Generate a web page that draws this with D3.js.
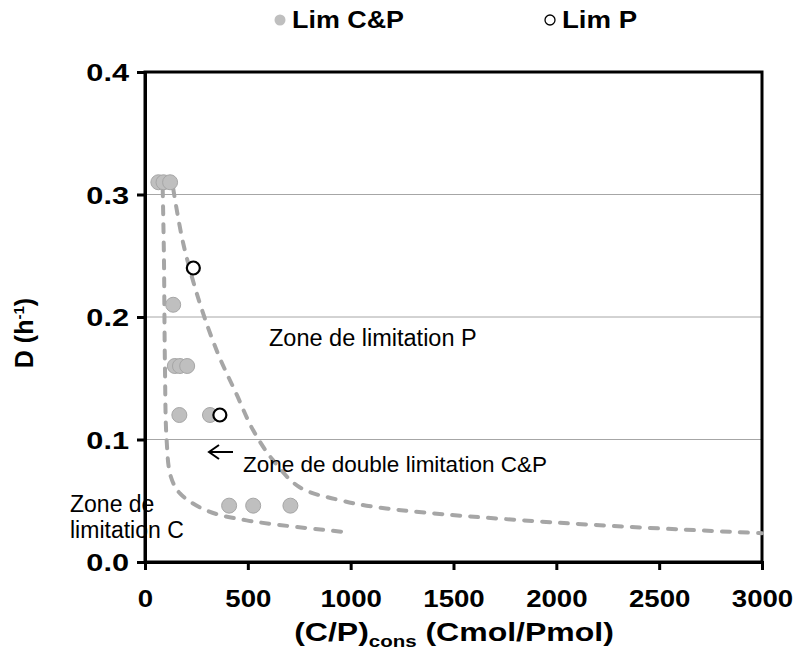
<!DOCTYPE html>
<html>
<head>
<meta charset="utf-8">
<script src="https://cdn.jsdelivr.net/npm/d3@7"></script>
<style>
  html, body { margin: 0; padding: 0; background: #fff; }
  svg { display: block; font-family: "Liberation Sans", Arial, sans-serif; }
</style>
</head>
<body>
<svg id="chart" width="796" height="651"></svg>
<script>
// Dilution rate D (h-1) versus consumed C/P ratio (Cmol/Pmol)
const limCP_x = [65, 90, 122, 137, 145, 170, 205, 167, 316, 409, 526, 707];
const limCP_y = [0.31, 0.31, 0.31, 0.21, 0.16, 0.16, 0.16, 0.12, 0.12, 0.046, 0.046, 0.046];
const limP_x = [235, 364];
const limP_y = [0.24, 0.12];

// Boundary of the C-limitation zone
const boundC_x = [86, 92, 97, 105, 125, 170, 300, 494, 1000];
const boundC_y = [0.305, 0.25, 0.16, 0.10, 0.07, 0.056, 0.042, 0.034, 0.024];
// Boundary of the P-limitation zone
const boundP_x = [137, 186, 267, 355, 445, 526, 623, 752, 947, 1173, 2015, 3000];
const boundP_y = [0.305, 0.26, 0.211, 0.17, 0.137, 0.1075, 0.083, 0.061, 0.0505, 0.0437, 0.032, 0.0235];

const xTicks = [0, 500, 1000, 1500, 2000, 2500, 3000];
const yTicks = [0.0, 0.1, 0.2, 0.3, 0.4];
const gridTicks = [0.1, 0.2, 0.3];

const svg = d3.select("#chart");
const plotL = 145, plotR = 762, plotT = 72, plotB = 562;

const x = d3.scaleLinear().domain([0, 3000]).range([plotL, plotR]);
const y = d3.scaleLinear().domain([0, 0.4]).range([plotB, plotT]);

// text placed at (tx, ty) and widened horizontally by sx
function label(tx, ty, str, size, weight, sx, anchor) {
  return svg.append("text")
    .attr("transform", `translate(${tx},${ty}) scale(${sx},1)`)
    .attr("text-anchor", anchor || "start")
    .attr("font-size", size).attr("font-weight", weight)
    .attr("fill", "#000").text(str);
}

// horizontal gridlines
svg.append("g").selectAll("line").data(gridTicks).join("line")
  .attr("x1", plotL).attr("x2", plotR)
  .attr("y1", d => y(d)).attr("y2", d => y(d))
  .attr("stroke", "#a6a6a6").attr("stroke-width", 1);

// frame
svg.append("rect")
  .attr("x", plotL).attr("y", plotT)
  .attr("width", plotR - plotL).attr("height", plotB - plotT)
  .attr("fill", "none").attr("stroke", "#000").attr("stroke-width", 3);

// axes
const xAxis = svg.append("g").attr("transform", `translate(0,${plotB})`)
  .call(d3.axisBottom(x).tickValues(xTicks).tickSize(8).tickFormat(d3.format("d")));
const yAxis = svg.append("g").attr("transform", `translate(${plotL},0)`)
  .call(d3.axisLeft(y).tickValues(yTicks).tickSize(8).tickFormat(d3.format(".1f")));
[xAxis, yAxis].forEach(g => {
  g.select(".domain").attr("stroke", "#000").attr("stroke-width", 3);
  g.selectAll(".tick line").attr("stroke", "#000").attr("stroke-width", 3);
  g.selectAll(".tick text").attr("fill", "#000")
    .attr("x", null).attr("y", null).attr("dy", null)
    .style("font-family", '"Liberation Sans", Arial, sans-serif')
    .style("font-size", "24px").style("font-weight", "bold");
});
xAxis.selectAll(".tick text").attr("text-anchor", "middle")
  .attr("transform", "translate(0,45) scale(1.15,1)");
yAxis.selectAll(".tick text").attr("text-anchor", "end")
  .attr("transform", "translate(-16,8.5) scale(1.28,1)");

// dashed zone boundaries
const line = d3.line().x(d => x(d[0])).y(d => y(d[1])).curve(d3.curveCatmullRom.alpha(0.5));
[[boundC_x, boundC_y], [boundP_x, boundP_y]].forEach(([xs, ys]) => {
  svg.append("path")
    .attr("d", line(xs.map((v, i) => [v, ys[i]])))
    .attr("fill", "none").attr("stroke", "#a6a6a6")
    .attr("stroke-width", 4).attr("stroke-linecap", "round")
    .attr("stroke-dasharray", "8,10");
});

// Lim C&P points
svg.append("g").selectAll("circle").data(limCP_x.map((v, i) => [v, limCP_y[i]])).join("circle")
  .attr("cx", d => x(d[0])).attr("cy", d => y(d[1])).attr("r", 7.5)
  .attr("fill", "#bfbfbf").attr("stroke", "#a6a6a6").attr("stroke-width", 1);

// Lim P points
svg.append("g").selectAll("circle").data(limP_x.map((v, i) => [v, limP_y[i]])).join("circle")
  .attr("cx", d => x(d[0])).attr("cy", d => y(d[1])).attr("r", 6.5)
  .attr("fill", "#fff").attr("stroke", "#000").attr("stroke-width", 2.2);

// zone annotations
label(269, 346, "Zone de limitation P", 23.5, "normal", 1);
label(243, 472, "Zone de double limitation C&P", 22.5, "normal", 1);
label(70, 512, "Zone de", 23, "normal", 1);
label(70, 538, "limitation C", 23, "normal", 1);

// arrow pointing at the double-limitation zone
svg.append("path")
  .attr("d", "M233,452 L209,452 M219,445 L209,452 L219,459")
  .attr("fill", "none").attr("stroke", "#000").attr("stroke-width", 2);

// legend
svg.append("circle").attr("cx", 280).attr("cy", 20).attr("r", 5.5)
  .attr("fill", "#bfbfbf");
label(292, 28, "Lim C&P", 24, "bold", 1.12);
svg.append("circle").attr("cx", 550).attr("cy", 20).attr("r", 5)
  .attr("fill", "#fff").attr("stroke", "#000").attr("stroke-width", 1.3);
label(562, 28, "Lim P", 24, "bold", 1.15);

// axis titles
const xt = svg.append("text").attr("transform", "translate(454,641) scale(1.28,1)")
  .attr("text-anchor", "middle").attr("font-size", 25).attr("font-weight", "bold");
xt.append("tspan").text("(C/P)");
xt.append("tspan").attr("font-size", 16).attr("dy", 6).text("cons");
xt.append("tspan").attr("dy", -6).text(" (Cmol/Pmol)");

const yt = svg.append("text").attr("transform", "translate(33,333) rotate(-90)")
  .attr("text-anchor", "middle").attr("font-size", 25).attr("font-weight", "bold");
yt.append("tspan").text("D (h");
yt.append("tspan").attr("font-size", 15).attr("dy", -9).text("-1");
yt.append("tspan").attr("dy", 9).text(")");
</script>
</body>
</html>
